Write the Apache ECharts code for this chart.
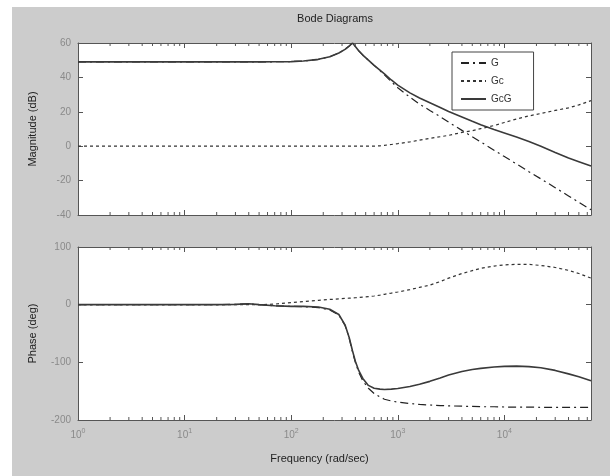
<!DOCTYPE html>
<html><head><meta charset="utf-8">
<script src="https://cdn.jsdelivr.net/npm/echarts@6/dist/echarts.min.js"></script>
<style>
html,body{margin:0;padding:0;background:#fff;}
#wrap{position:absolute;left:12px;top:7px;width:598px;height:469px;background:#cccccc;}
#chart{width:598px;height:469px;}
</style></head><body>
<div id="wrap"><div id="chart"></div></div>
<script>
// Frequencies (rad/sec)
const freq = [1, 3, 10, 20, 30, 40, 50, 70, 100, 130, 180, 230, 280, 320, 350, 376, 400, 430, 470, 530, 600, 680, 750, 870, 1000, 1300, 1600, 2000, 2500, 3000, 4000, 5000, 6000, 8000, 10000, 13000, 17000, 22000, 30000, 40000, 50000, 65000];
// Magnitude (dB)
const magG   = [49, 49, 49, 49, 49, 49, 49, 49.1, 49.2, 49.5, 50.5, 52, 54.2, 56.3, 58.2, 60, 58, 55.5, 53, 50, 47, 44, 41.5, 37.5, 34, 28.5, 24.5, 20.8, 17.2, 14, 9.2, 5.5, 2.5, -2.3, -6, -10.3, -14.8, -19, -24.1, -28.9, -32.6, -37];
const magGc  = [0, 0, 0, 0, 0, 0, 0, 0, 0, 0, 0, 0, 0, 0, 0, 0, 0, 0, 0, 0, 0, 0.2, 0.5, 1, 1.5, 2.5, 3.5, 4.5, 5.5, 6.3, 8, 9, 10.2, 12, 13.8, 15.8, 17.6, 19, 20.8, 22.3, 24, 26.5];
const magGcG = [49, 49, 49, 49, 49, 49, 49, 49.1, 49.2, 49.5, 50.5, 52, 54.2, 56.3, 58.2, 60, 58, 55.5, 53, 50, 47, 44.2, 42, 38.5, 35.5, 31, 28, 25.3, 22.5, 20.2, 17, 14.5, 12.5, 9.7, 7.7, 5.3, 2.8, 0, -3.6, -6.9, -9, -11.5];
// Phase (deg)
const phG   = [0, 0, 0, 0, 0.5, 1.5, 0, -2, -3, -3.5, -5, -9, -18, -36, -58, -82, -100, -117, -132, -145, -154, -160, -164, -167, -169, -171.5, -173, -174, -175, -175.5, -176, -176.5, -177, -177, -177.5, -177.5, -177.5, -178, -178, -178, -178, -178];
const phGc  = [0, 0, 0, 0, 0, 0, 0, 1, 3.5, 5.5, 7.5, 9, 10, 10.8, 11.3, 11.7, 12, 12.5, 13, 14, 15, 16.5, 18, 20, 22, 26, 30, 34, 40, 46, 54, 59, 63, 67, 69, 70, 69.8, 68, 64.5, 59.5, 54, 46];
const phGcG = [0, 0, 0, 0, 0.5, 1.5, 0, -2, -3, -3, -4, -8, -17, -35, -57, -80, -98, -114, -128, -140, -145, -146.5, -147, -146.5, -145.5, -142, -138, -133, -127, -122, -116, -112.5, -110.5, -108, -107, -106.5, -107.5, -109.5, -114, -120, -125, -132];
// Minor tick frequencies of the log axis
const minorFreqs = [2,3,4,5,6,7,8,9,20,30,40,50,60,70,80,90,200,300,400,500,600,700,800,900,2000,3000,4000,5000,6000,7000,8000,9000,20000,30000,40000,50000,60000];
const legendNames = ['G', 'Gc', 'GcG'];

const FONT = 'Liberation Sans, Arial, sans-serif';
const LBL = '#8a8a8a';
const AX = '#555';

function pairs(vals){ return freq.map((f,i)=>[f, vals[i]]); }

function xLabel(v){
  const e = Math.log10(v), r = Math.round(e);
  if (Math.abs(e - r) > 1e-6) return '';
  return '{b|10}{s|' + r + '}';
}

function xAxes(gi, showLabels, withName){
  const base = {type:'log', logBase:10, min:1, max:65000, gridIndex:gi,
    axisLine:{show:true, onZero:false, lineStyle:{color:AX, width:1}},
    axisTick:{show:true, inside:true, length:5, lineStyle:{color:AX}},
    splitLine:{show:false}};
  const bottom = Object.assign({}, base, {position:'bottom',
    axisLabel:{show:showLabels, formatter:xLabel, margin:8, fontFamily:FONT,
      rich:{b:{fontSize:10, color:LBL, fontFamily:FONT, lineHeight:14},
            s:{fontSize:7, color:LBL, fontFamily:FONT, verticalAlign:'top', lineHeight:8}}}});
  if (withName){
    bottom.name = 'Frequency (rad/sec)';
    bottom.nameLocation = 'middle';
    bottom.nameGap = 33;
    bottom.nameTextStyle = {fontFamily:FONT, fontSize:11, color:'#222', padding:[0,30,0,0]};
  }
  const top = Object.assign({}, base, {position:'top', axisLabel:{show:false}});
  return [bottom, top];
}

function yAxes(gi, min, max, interval, name){
  const base = {type:'value', min:min, max:max, interval:interval, gridIndex:gi,
    axisLine:{show:true, onZero:false, lineStyle:{color:AX, width:1}},
    axisTick:{show:true, inside:true, length:5, lineStyle:{color:AX}},
    splitLine:{show:false}};
  const left = Object.assign({}, base, {position:'left',
    axisLabel:{show:true, margin:7, color:LBL, fontSize:10, fontFamily:FONT},
    name:name, nameLocation:'middle', nameGap:40,
    nameTextStyle:{fontFamily:FONT, fontSize:11, color:'#222'}});
  const right = Object.assign({}, base, {position:'right', axisLabel:{show:false}});
  return [left, right];
}

function minorTicks(xi, yi, yMin, yMax){
  return {type:'custom', xAxisIndex:xi, yAxisIndex:yi, silent:true, clip:false, z:5,
    data: minorFreqs.map(f=>[f, yMin]),
    renderItem: function(params, api){
      const f = api.value(0);
      const b = api.coord([f, yMin]);
      const t = api.coord([f, yMax]);
      return {type:'group', children:[
        {type:'line', shape:{x1:b[0], y1:b[1], x2:b[0], y2:b[1]-3}, style:{stroke:AX, lineWidth:1}},
        {type:'line', shape:{x1:t[0], y1:t[1], x2:t[0], y2:t[1]+3}, style:{stroke:AX, lineWidth:1}}
      ]};
    }};
}

function lineSeries(name, vals, xi, yi, style){
  return {type:'line', name:name, xAxisIndex:xi, yAxisIndex:yi, data:pairs(vals),
    symbol:'none', showSymbol:false, smooth:false, animation:false,
    lineStyle:style, itemStyle:{color:style.color}, emphasis:{disabled:true}};
}

const stG   = {color:'#222', width:1.2, type:[8,4,2,4]};
const stGc  = {color:'#333', width:1.2, type:[3,3]};
const stGcG = {color:'#3a3a3a', width:1.6, type:'solid'};

const xa = xAxes(0, false, false).concat(xAxes(1, true, true));
const ya = yAxes(0, -40, 60, 20, 'Magnitude (dB)').concat(yAxes(1, -200, 100, 100, 'Phase (deg)'));

const option = {
  animation:false,
  backgroundColor:'transparent',
  title:{text:'Bode Diagrams', left:318, top:1, textAlign:'center',
    textStyle:{fontFamily:FONT, fontSize:11, fontWeight:'normal', color:'#222'}},
  legend:{data:legendNames, orient:'vertical', left:440, top:45,
    padding:[6,22,6,8], itemWidth:25, itemHeight:10, itemGap:8,
    itemStyle:{opacity:0, borderWidth:0},
    backgroundColor:'#fff', borderColor:'#444', borderWidth:1, borderRadius:0,
    textStyle:{fontFamily:FONT, fontSize:10, color:'#333'}, selectedMode:false},
  grid:[
    {left:66, top:36, width:513, height:172, show:true, backgroundColor:'#fff', borderWidth:0},
    {left:66, top:240, width:513, height:173, show:true, backgroundColor:'#fff', borderWidth:0}
  ],
  xAxis: xa,
  yAxis: ya,
  series:[
    lineSeries('G', magG, 0, 0, stG),
    lineSeries('Gc', magGc, 0, 0, stGc),
    lineSeries('GcG', magGcG, 0, 0, stGcG),
    lineSeries('G', phG, 2, 2, stG),
    lineSeries('Gc', phGc, 2, 2, stGc),
    lineSeries('GcG', phGcG, 2, 2, stGcG),
    minorTicks(0, 0, -40, 60),
    minorTicks(2, 2, -200, 100)
  ]
};
const chart = echarts.init(document.getElementById('chart'), null, {renderer:'canvas'});
chart.setOption(option);
</script></body></html>
